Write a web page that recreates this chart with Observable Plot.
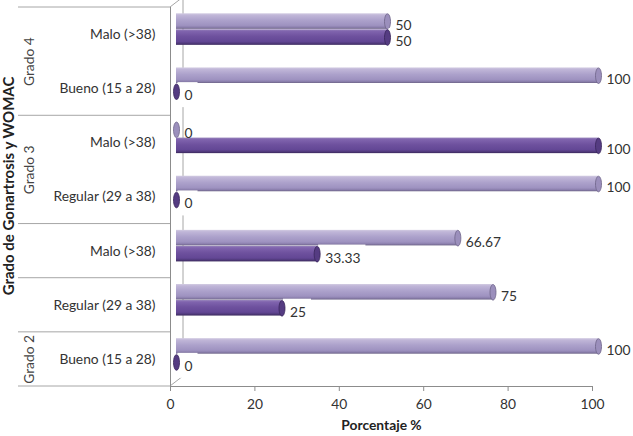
<!DOCTYPE html>
<html>
<head>
<meta charset="utf-8">
<script src="https://cdn.jsdelivr.net/npm/d3@7"></script>
<script src="https://cdn.jsdelivr.net/npm/@observablehq/plot@0.6"></script>
<style>
  html, body { margin: 0; padding: 0; background: #fff; }
  #chart svg { display: block; }
  #chart .tick line,
  #chart g[aria-label="x-axis tick"],
  #chart g[aria-label="x-axis"] line { stroke: #8c8c8c; }
</style>
</head>
<body>
<div id="chart"></div>
<script>
// Rows from top to bottom
const categories = ["Malo (>38)", "Bueno (15 a 28)", "Malo (>38)", "Regular (29 a 38)", "Malo (>38)", "Regular (29 a 38)", "Bueno (15 a 28)"];
const grades = ["Grado 4", "Grado 4", "Grado 3", "Grado 3", "", "", "Grado 2"];
// Two series (percent)
const serieClara = [50, 100, 0, 100, 66.67, 75, 100];
const serieOscura = [50, 0, 100, 0, 33.33, 25, 0];
const xTicks = [0, 20, 40, 60, 80, 100];
const xTitle = "Porcentaje %";
const yTitle = "Grado de Gonartrosis y WOMAC";

const rows = categories.map((c, i) => ({i, c, grade: grades[i], a: serieClara[i], b: serieOscura[i]}));

// consecutive rows with the same grade form one block; unlabeled rows stand alone
const blocks = [];
for (const r of rows) {
  const last = blocks[blocks.length - 1];
  if (last && r.grade && last.grade === r.grade) last.end = r.i;
  else blocks.push({grade: r.grade, start: r.i, end: r.i});
}
blocks.forEach(b => b.mid = (b.start + b.end) / 2);
const boundaries = [-0.5, ...blocks.map(b => b.end + 0.5)];

// 3D look: bars sit a bit behind the front axis plane
const DEPTH_DX = 6, UP = -13, DOWN = 3, INSET = 19.3;

// elliptical end cap of a cylinder
const capSymbol = {
  draw(ctx) {
    const rx = 3, ry = 7.8, k = 0.5523;
    ctx.moveTo(rx, 0);
    ctx.bezierCurveTo(rx, ry * k, rx * k, ry, 0, ry);
    ctx.bezierCurveTo(-rx * k, ry, -rx, ry * k, -rx, 0);
    ctx.bezierCurveTo(-rx, -ry * k, -rx * k, -ry, 0, -ry);
    ctx.bezierCurveTo(rx * k, -ry, rx, -ry * k, rx, 0);
    ctx.closePath();
  }
};

const bars = (key, dy, fill) => Plot.rectX(rows, {
  x1: () => 0, x2: key,
  y1: d => d.i - 0.5, y2: d => d.i + 0.5,
  insetTop: INSET, insetBottom: INSET,
  dx: DEPTH_DX, dy, fill
});
const caps = (key, dy, fill, stroke) => Plot.dot(rows, {
  x: key, y: "i", dx: DEPTH_DX, dy, symbol: capSymbol, r: 3,
  fill, stroke, strokeWidth: 0.8
});
const labels = (key, dy, desc) => Plot.text(rows, {
  x: key, y: "i", text: d => String(d[key]),
  dx: 14, dy: dy + 4, textAnchor: "start", fill: "#333",
  ariaDescription: desc
});

const chart = Plot.plot({
  width: 633,
  height: 436,
  marginLeft: 170,
  marginRight: 41,
  marginTop: 7,
  marginBottom: 50,
  style: {fontFamily: "Lato, 'Open Sans', sans-serif", fontSize: "13.8px", color: "#333", background: "#fff"},
  x: {domain: [0, 100], ticks: xTicks, tickSize: 5, tickPadding: 8, label: null},
  y: {domain: [6.5, -0.5], ticks: d3.range(rows.length), tickFormat: i => categories[i], tickSize: 0, tickPadding: 15, label: null},
  marks: [
    Plot.ruleX([0], {stroke: "#8c8c8c"}),
    Plot.ruleY([6.5], {stroke: "#8c8c8c"}),
    bars("a", UP, "url(#cilindroClaro)"),
    caps("a", UP, "#9b8fbc", "#6d6388"),
    labels("b", DOWN, "etiquetas oscura"),
    bars("b", DOWN, "url(#cilindroOscuro)"),
    caps("b", DOWN, "#553c82", "#38265a"),
    labels("a", UP, "etiquetas clara"),
    Plot.text(blocks.filter(b => b.grade), {
      y: "mid", text: "grade", frameAnchor: "left", textAnchor: "middle", dx: -141, rotate: -90, fill: "#444"
    }),
    Plot.text([yTitle], {frameAnchor: "left", textAnchor: "middle", dx: -161, dy: -11, rotate: -90, fontWeight: "bold", fontSize: 15, fill: "#222"}),
    Plot.text([xTitle], {frameAnchor: "bottom", textAnchor: "middle", dy: 43, fontWeight: "bold", fill: "#222"})
  ]
});

document.getElementById("chart").appendChild(chart);

const ns = "http://www.w3.org/2000/svg";
const defs = document.createElementNS(ns, "defs");
defs.innerHTML = `
  <linearGradient id="cilindroClaro" x1="0" y1="0" x2="0" y2="1">
    <stop offset="0" stop-color="#d2cbe2"/>
    <stop offset="0.12" stop-color="#c0b6d8"/>
    <stop offset="0.45" stop-color="#aca1cb"/>
    <stop offset="0.78" stop-color="#9e92c0"/>
    <stop offset="0.9" stop-color="#8b7fad"/>
    <stop offset="1" stop-color="#6c6386"/>
  </linearGradient>
  <linearGradient id="cilindroOscuro" x1="0" y1="0" x2="0" y2="1">
    <stop offset="0" stop-color="#9784bb"/>
    <stop offset="0.12" stop-color="#8064ae"/>
    <stop offset="0.45" stop-color="#6e519e"/>
    <stop offset="0.78" stop-color="#634795"/>
    <stop offset="0.9" stop-color="#513a7c"/>
    <stop offset="1" stop-color="#3a285c"/>
  </linearGradient>`;
chart.insertBefore(defs, chart.firstChild);

// frame decorations drawn from the plot's own scales
const sx = chart.scale("x"), sy = chart.scale("y");
const fx = d3.scaleLinear(sx.domain, sx.range);
const fy = d3.scaleLinear(sy.domain, sy.range);
const deco = d3.create("svg:g").attr("stroke", "#a6a6a6").attr("fill", "none");
const x0 = fx(0), yTop = fy(-0.5), yBot = fy(6.5);
for (const b of boundaries) {
  deco.append("line").attr("x1", 18).attr("x2", x0).attr("y1", fy(b)).attr("y2", fy(b));
}
deco.append("line").attr("x1", x0 + 13).attr("x2", x0 + 13).attr("y1", yTop - 10).attr("y2", yBot - 10);
deco.append("line").attr("x1", x0).attr("y1", yTop).attr("x2", x0 + 13).attr("y2", yTop - 10);
deco.append("line").attr("x1", x0).attr("y1", yBot).attr("x2", x0 + 13).attr("y2", yBot - 10);
chart.insertBefore(deco.node(), defs.nextSibling);

// white boxes behind the lower series' value labels
chart.querySelectorAll('g[aria-description="etiquetas oscura"] text').forEach(t => {
  const bb = t.getBBox();
  const rect = document.createElementNS(ns, "rect");
  rect.setAttribute("x", bb.x - 7);
  rect.setAttribute("y", bb.y - 4);
  rect.setAttribute("width", bb.width + 12);
  rect.setAttribute("height", bb.height + 8);
  rect.setAttribute("fill", "#fff");
  if (t.getAttribute("transform")) rect.setAttribute("transform", t.getAttribute("transform"));
  t.parentNode.insertBefore(rect, t);
});
</script>
</body>
</html>
